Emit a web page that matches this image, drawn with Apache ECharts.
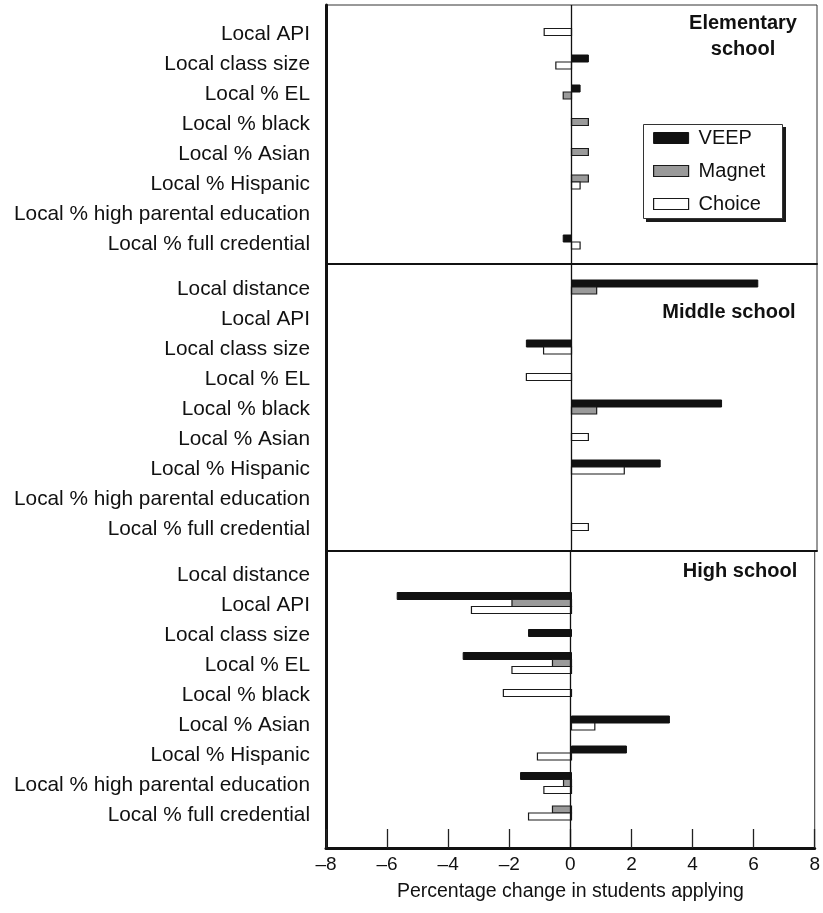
<!DOCTYPE html>
<html>
<head>
<meta charset="utf-8">
<script src="https://cdn.jsdelivr.net/npm/echarts@6/dist/echarts.min.js"></script>
<style>
html,body{margin:0;padding:0;background:#fff;}
#chart{width:823px;height:913px;}
</style>
</head>
<body>
<div id="chart"></div>
<script>
// ---------- DATA ----------
var seriesNames = ['VEEP', 'Magnet', 'Choice'];
var xTicks = [-8, -6, -4, -2, 0, 2, 4, 6, 8];
var panelTitles = ['Elementary\nschool', 'Middle school', 'High school'];

var elemCategories = ['Local API', 'Local class size', 'Local % EL', 'Local % black', 'Local % Asian', 'Local % Hispanic', 'Local % high parental education', 'Local % full credential'];
var elemVEEP   = [null, 0.55, 0.28, null, null, null, null, -0.27];
var elemMagnet = [null, null, -0.27, 0.55, 0.55, 0.55, null, null];
var elemChoice = [-0.89, -0.51, null, null, null, 0.28, null, 0.28];

var midCategories = ['Local distance', 'Local API', 'Local class size', 'Local % EL', 'Local % black', 'Local % Asian', 'Local % Hispanic', 'Local % high parental education', 'Local % full credential'];
var midVEEP   = [6.07, null, -1.47, null, 4.89, null, 2.89, null, null];
var midMagnet = [0.82, null, null, null, 0.82, null, null, null, null];
var midChoice = [null, null, -0.91, -1.47, null, 0.55, 1.72, null, 0.55];

var highCategories = ['Local distance', 'Local API', 'Local class size', 'Local % EL', 'Local % black', 'Local % Asian', 'Local % Hispanic', 'Local % high parental education', 'Local % full credential'];
var highVEEP   = [null, -5.68, -1.40, -3.53, null, 3.19, 1.79, -1.66, null];
var highMagnet = [null, -1.94, null, -0.62, null, null, null, -0.26, -0.62];
var highChoice = [null, -3.26, null, -1.94, -2.22, 0.76, -1.11, -0.90, -1.40];

// ---------- STYLES ----------
var FONT = "'Liberation Sans', Arial, Helvetica, sans-serif";
var barStyles = {
  VEEP:   {color: '#111111', borderColor: '#111111', borderWidth: 1},
  Magnet: {color: '#9a9a9a', borderColor: '#1a1a1a', borderWidth: 1.2},
  Choice: {color: '#ffffff', borderColor: '#1a1a1a', borderWidth: 1.2}
};
var BAR_H = 7;
var BAR_SHIFT = -2; // bars sit slightly above the category band centre (label baseline compensation)

var panels = [
  {cats: elemCategories, vals: [elemVEEP, elemMagnet, elemChoice]},
  {cats: midCategories,  vals: [midVEEP, midMagnet, midChoice]},
  {cats: highCategories, vals: [highVEEP, highMagnet, highChoice]}
];

// frame rectangles (panels) and data grids (rows of 30px)
var frameTops = [5, 264, 551];
var frameHeights = [259, 287, 297];
var dataTops = [19, 274, 560];

function renderBar(params, api) {
  var v = api.value(0), c = api.value(1), slot = api.value(2), cnt = api.value(3);
  var p0 = api.coord([0, c]);
  var p1 = api.coord([v, c]);
  var yc = p0[1] + BAR_SHIFT + (slot - (cnt - 1) / 2) * BAR_H;
  var x = Math.min(p0[0], p1[0]);
  var w = Math.abs(p1[0] - p0[0]);
  return {
    type: 'rect',
    shape: {x: x, y: yc - BAR_H / 2, width: w, height: BAR_H},
    style: api.style()
  };
}

var grids = [], xAxes = [], yAxes = [], series = [];

// Frame grids 0..2
for (var i = 0; i < 3; i++) {
  grids.push({left: 326, right: 6, top: frameTops[i], height: frameHeights[i],
              show: true, borderColor: '#333', borderWidth: 1, backgroundColor: 'transparent'});
  var isBottom = (i === 2);
  xAxes.push({
    gridIndex: i, type: 'value', min: -8, max: 8, interval: 2,
    axisLine: {show: true, onZero: false, lineStyle: {color: '#111', width: isBottom ? 3 : 2}},
    axisTick: {show: isBottom, inside: true, length: 19, lineStyle: {color: '#222', width: 1.3}},
    axisLabel: {show: isBottom, fontSize: 19, color: '#111', fontFamily: FONT, margin: 7,
                formatter: function (v) { return String(v).replace('-', '\u2013'); }},
    splitLine: {show: false},
    name: isBottom ? 'Percentage change in students applying' : '',
    nameLocation: 'middle', nameGap: 34,
    nameTextStyle: {fontSize: 19.5, color: '#111', fontFamily: FONT}
  });
  yAxes.push({
    gridIndex: i, type: 'value', min: 0, max: 1,
    axisLine: {show: true, onZero: false, lineStyle: {color: '#111', width: 3}},
    axisTick: {show: false}, axisLabel: {show: false}, splitLine: {show: false}
  });
  series.push({
    type: 'line', xAxisIndex: i, yAxisIndex: i, data: [], silent: true,
    markLine: {silent: true, symbol: ['none', 'none'], label: {show: false},
               lineStyle: {color: '#111', width: 1.3, type: 'solid'},
               data: [{xAxis: 0}], animation: false}
  });
}

// Data grids 3..5
for (var p = 0; p < 3; p++) {
  var gi = 3 + p;
  var cats = panels[p].cats;
  grids.push({left: 326, right: 6, top: dataTops[p], height: 30 * cats.length, show: false});
  xAxes.push({gridIndex: gi, type: 'value', min: -8, max: 8, show: false});
  yAxes.push({
    gridIndex: gi, type: 'category', data: cats, inverse: true,
    axisLine: {show: false}, axisTick: {show: false}, splitLine: {show: false},
    axisLabel: {fontSize: 20.8, color: '#111', fontFamily: FONT, margin: 16, interval: 0}
  });
  var vals = panels[p].vals;
  for (var s = 0; s < 3; s++) {
    var data = [];
    for (var r = 0; r < cats.length; r++) {
      if (vals[s][r] === null) continue;
      var cnt = 0, slot = 0;
      for (var k = 0; k < 3; k++) {
        if (vals[k][r] !== null) { if (k < s) slot++; cnt++; }
      }
      data.push([vals[s][r], r, slot, cnt]);
    }
    series.push({
      type: 'custom', name: seriesNames[s], xAxisIndex: gi, yAxisIndex: gi,
      renderItem: renderBar, encode: {x: 0, y: 1},
      itemStyle: barStyles[seriesNames[s]], data: data, z: 3
    });
  }
}

var chart = echarts.init(document.getElementById('chart'), null, {renderer: 'canvas'});
chart.setOption({
  animation: false,
  backgroundColor: '#fff',
  grid: grids, xAxis: xAxes, yAxis: yAxes, series: series,
  legend: {
    orient: 'vertical', left: 643, top: 124, z: 10,
    padding: [4, 16, 4, 10], itemGap: 13, itemWidth: 35, itemHeight: 11,
    backgroundColor: 'transparent', borderWidth: 0,
    textStyle: {fontSize: 20, color: '#111', fontFamily: FONT, padding: [0, 0, 0, 5]},
    data: seriesNames.map(function (n) {
      return {name: n, icon: 'rect', itemStyle: barStyles[n]};
    })
  },
  graphic: [
    // legend frame: drop shadow + box
    {type: 'rect', z: 5, shape: {x: 646, y: 127, width: 140, height: 95}, style: {fill: '#1a1a1a'}},
    {type: 'rect', z: 6, shape: {x: 643.5, y: 124.5, width: 139, height: 94}, style: {fill: '#fff', stroke: '#333', lineWidth: 1}},
    {type: 'text', x: 743, y: 36, style: {text: panelTitles[0], font: 'bold 20px ' + FONT, textAlign: 'center', textVerticalAlign: 'middle', lineHeight: 26, fill: '#111'}},
    {type: 'text', x: 729, y: 312, style: {text: panelTitles[1], font: 'bold 20px ' + FONT, textAlign: 'center', textVerticalAlign: 'middle', fill: '#111'}},
    {type: 'text', x: 740, y: 571, style: {text: panelTitles[2], font: 'bold 20px ' + FONT, textAlign: 'center', textVerticalAlign: 'middle', fill: '#111'}}
  ]
});
</script>
</body>
</html>
